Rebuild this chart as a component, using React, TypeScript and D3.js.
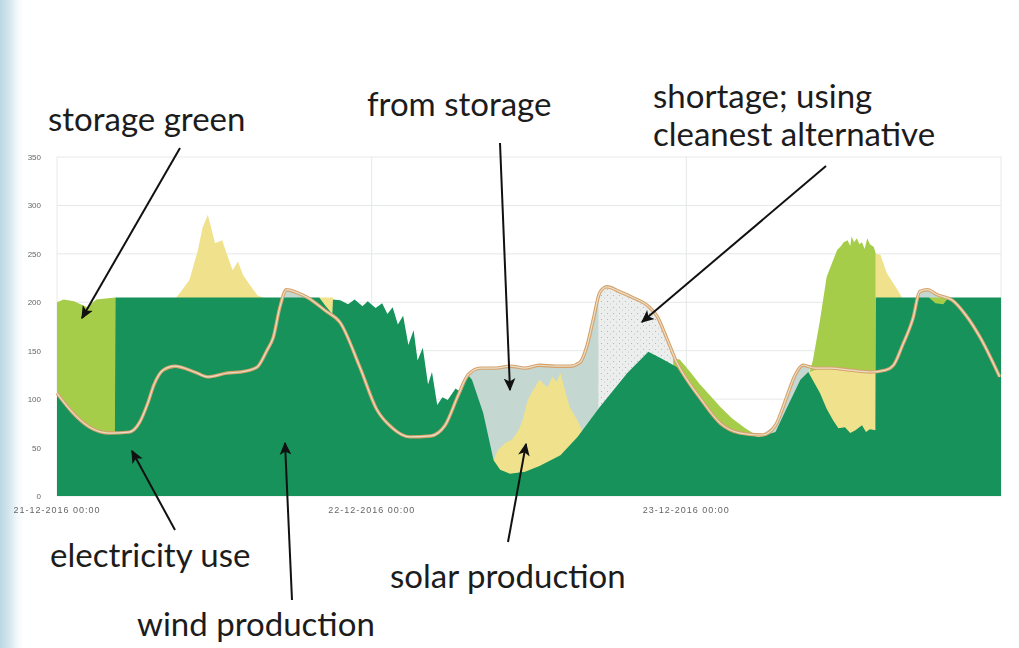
import * as d3 from 'd3'

type Pt = [number, number]

// hours since 21-12-2016 00:00, value
const useLine: Pt[] = [
  [0, 106], [1.2, 86], [2.5, 71], [4.0, 65], [5.5, 66], [6.3, 76], [6.9, 95], [7.4, 115], [8.1, 130], [9.0, 134],
  [10.5, 128], [11.5, 123], [13.0, 127], [14.0, 128], [15.25, 133], [16.0, 150], [16.5, 164], [17.0, 195], [17.5, 213],
  [18.3, 210], [19.1, 205], [20.5, 191], [21.6, 179], [23.1, 133], [24.4, 89], [25.6, 70], [26.9, 61], [28.5, 62],
  [29.6, 73], [30.6, 104], [31.35, 125], [32.3, 132], [33.4, 132], [34.6, 134], [35.7, 132], [36.8, 135], [38.0, 134],
  [39.1, 134], [39.9, 138], [40.4, 154], [40.9, 182], [41.4, 210], [41.95, 216], [42.9, 211], [43.9, 205], [45.0, 197],
  [45.8, 185], [46.5, 163], [47.3, 137], [48.3, 115], [49.0, 102], [50.6, 75], [52.1, 65], [53.8, 63], [54.8, 73],
  [55.7, 104], [56.3, 125], [56.9, 135], [57.8, 132], [59.0, 132], [60.5, 130], [62.0, 128], [63.2, 130], [63.8, 135],
  [64.5, 156], [65.3, 184], [65.8, 211], [66.4, 213], [67.1, 208], [68.3, 202], [69.3, 187], [70.4, 164], [71.9, 123],
]

const wind: Pt[] = [
  [0, 106], [1.2, 86], [2.5, 71], [4.0, 65], [4.42, 65], [4.45, 205], [20.0, 205], [20.5, 196], [21.0, 188], [21.05, 203],
  [21.6, 202], [22.2, 198], [22.7, 203], [23.3, 196], [23.7, 201], [24.3, 194], [24.8, 199], [25.2, 188], [25.6, 195],
  [26.0, 177], [26.4, 186], [26.8, 156], [27.2, 171], [27.5, 140], [27.9, 153], [28.3, 115], [28.6, 128], [29.0, 94],
  [29.4, 102], [29.8, 99], [30.4, 111], [30.8, 107], [31.35, 125], [31.65, 120], [32.5, 86], [33.3, 37], [33.8, 27],
  [34.55, 23], [35.7, 25], [36.8, 31], [38.4, 42], [39.7, 61], [41.4, 92], [43.5, 127], [45.1, 149], [46.1, 142],
  [47.3, 133], [49.0, 100], [50.6, 73], [52.5, 63], [53.6, 61], [54.8, 66], [55.7, 92], [56.7, 120], [57.3, 128],
  [58.2, 106], [58.7, 90], [59.2, 78], [59.6, 70], [60.1, 71], [60.5, 65], [60.9, 68], [61.4, 73], [61.7, 66],
  [62.0, 69], [62.42, 68], [62.45, 205], [66.5, 205], [67.0, 199], [67.6, 198], [68.0, 205], [72, 205],
]

const storageGreenA: Pt[] = [[0, 200], [0.5, 203], [1.3, 201], [2.3, 195], [3.0, 203], [4.43, 205]]
const storageGreenB: Pt[] = [[47.0, 142], [47.5, 141], [48.3, 128], [49.0, 116], [50.0, 101], [50.6, 92], [51.5, 80], [52.5, 70], [53.3, 63]]
const storageGreenC: Pt[] = [
  [57.4, 128], [57.65, 140], [58.2, 182], [58.7, 226], [59.1, 240], [59.5, 254], [59.8, 258], [60.0, 262], [60.3, 264],
  [60.5, 258], [60.6, 268], [60.8, 262], [61.0, 266], [61.2, 260], [61.4, 262], [61.6, 255], [61.8, 266], [62.0, 260],
  [62.3, 257], [62.45, 250],
]
const storageGreenD: Pt[] = [[66.5, 205], [68.0, 205]]

const solarA: Pt[] = [
  [9.1, 205], [9.4, 210], [10.1, 223], [10.75, 254], [11.1, 277], [11.5, 290], [11.8, 275], [12.05, 261], [12.6, 264],
  [12.97, 249], [13.4, 233], [13.8, 242], [14.2, 228], [14.7, 218], [15.3, 207], [15.7, 205],
]
const solarB: Pt[] = [[20.0, 205], [21.05, 205]]
const solarC: Pt[] = [
  [33.3, 37], [33.6, 47], [34.2, 55], [34.7, 58], [35.2, 68], [35.5, 78], [35.9, 99], [36.3, 109], [36.8, 120],
  [37.4, 112], [37.8, 123], [38.1, 118], [38.4, 127], [38.75, 109], [39.1, 92], [39.7, 78], [40.05, 68], [40.3, 67],
]
const solarD: Pt[] = [[57.4, 128], [58.2, 132], [59.2, 132], [60.1, 131], [60.7, 130], [61.4, 129], [62.0, 128], [62.45, 128]]
const solarE: Pt[] = [[62.45, 250], [62.8, 249], [63.3, 230], [64.1, 213], [64.45, 205]]

const fromStorageA: Pt[] = [[17.1, 205], [17.5, 213], [18.3, 210], [19.1, 205]]
const fromStorageB: Pt[] = [
  [31.35, 125], [32.3, 132], [33.4, 132], [34.6, 134], [35.7, 132], [36.8, 135], [38.0, 134], [39.1, 134], [39.9, 138],
  [40.4, 154], [40.9, 182], [41.3, 206],
]
const fromStorageC: Pt[] = [[53.6, 62], [54.8, 73], [55.7, 104], [56.3, 125], [56.9, 135], [57.4, 133]]
const fromStorageD: Pt[] = [[65.5, 205], [65.8, 211], [66.4, 213], [67.1, 208], [67.5, 205]]

const shortage: Pt[] = [[41.3, 206], [41.95, 216], [42.9, 211], [43.9, 205], [45.0, 197], [45.8, 185], [46.5, 163], [47.3, 137], [47.5, 133]]

const yTicks = [0, 50, 100, 150, 200, 250, 300, 350]
const xTicks: [number, string][] = [[0, '21-12-2016 00:00'], [24, '22-12-2016 00:00'], [48, '23-12-2016 00:00']]

type Note = { lines: string[]; x: number; y: number; from: Pt; to: Pt }
const notes: Note[] = [
  { lines: ['storage green'], x: 48, y: 131, from: [180, 148], to: [82, 318] },
  { lines: ['from storage'], x: 367, y: 116, from: [500, 143], to: [510, 390] },
  { lines: ['shortage; using', 'cleanest alternative'], x: 653, y: 108, from: [826, 166], to: [642, 322] },
  { lines: ['electricity use'], x: 50, y: 567, from: [175, 530], to: [132, 451] },
  { lines: ['wind production'], x: 137, y: 636, from: [292, 600], to: [285, 443] },
  { lines: ['solar production'], x: 390, y: 588, from: [508, 542], to: [526, 444] },
]

const colors = {
  wind: '#12925a',
  storageGreen: '#a6cd4a',
  solar: '#f0e18c',
  fromStorage: '#c4d7d1',
}

export default function App() {
  const width = 1019
  const height = 648
  const x = d3.scaleLinear().domain([0, 72]).range([57, 1001])
  const y = d3.scaleLinear().domain([0, 350]).range([496, 157])

  const area = d3
    .area<Pt>()
    .x((d) => x(d[0]))
    .y0(y(0))
    .y1((d) => y(d[1]))
  const line = d3
    .line<Pt>()
    .x((d) => x(d[0]))
    .y((d) => y(d[1]))
    .curve(d3.curveMonotoneX)

  const layers: [Pt[], string][] = [
    [shortage, 'url(#dots)'],
    [fromStorageA, colors.fromStorage],
    [fromStorageB, colors.fromStorage],
    [fromStorageC, colors.fromStorage],
    [fromStorageD, colors.fromStorage],
    [storageGreenA, colors.storageGreen],
    [storageGreenB, colors.storageGreen],
    [storageGreenC, colors.storageGreen],
    [storageGreenD, colors.storageGreen],
    [solarA, colors.solar],
    [solarB, colors.solar],
    [solarC, colors.solar],
    [solarD, colors.solar],
    [solarE, colors.solar],
    [wind, colors.wind],
  ]

  return (
    <svg
      width={width}
      height={height}
      viewBox={`0 0 ${width} ${height}`}
      style={{ position: 'absolute', left: 0, top: 0, display: 'block', background: '#fff' }}
    >
      <defs>
        <linearGradient id="edge" x1="0" x2="1" y1="0" y2="0">
          <stop offset="0" stopColor="#b9d7e3" />
          <stop offset="0.45" stopColor="#dcebf1" />
          <stop offset="1" stopColor="#ffffff" stopOpacity="0" />
        </linearGradient>
        <pattern id="dots" width="6" height="6" patternUnits="userSpaceOnUse">
          <rect width="6" height="6" fill="#eceeed" />
          <circle cx="1.5" cy="1.5" r="0.6" fill="#a9b0ae" />
          <circle cx="4.5" cy="4" r="0.5" fill="#b7bdbb" />
        </pattern>
        <marker id="head" viewBox="0 0 10 10" refX="9" refY="5" markerWidth="13" markerHeight="13" markerUnits="userSpaceOnUse" orient="auto">
          <path d="M0,0.5 L10,5 L0,9.5 L2.5,5 Z" fill="#111" />
        </marker>
        <filter id="soft" x="-2%" y="-2%" width="104%" height="104%">
          <feGaussianBlur stdDeviation="0.45" />
        </filter>
      </defs>

      <rect x={0} y={0} width={26} height={height} fill="url(#edge)" />

      <g filter="url(#soft)">
        {yTicks.map((t) => (
          <line key={t} x1={x(0)} x2={x(72)} y1={y(t)} y2={y(t)} stroke="#e6e8e8" strokeWidth={1} />
        ))}
        {[0, 24, 48, 72].map((t) => (
          <line key={t} x1={x(t)} x2={x(t)} y1={y(350)} y2={y(0)} stroke="#e6e8e8" strokeWidth={1} />
        ))}

        {layers.map(([data, fill], i) => (
          <path key={i} d={area(data) ?? ''} fill={fill} />
        ))}

        {/* electricity use: tan outline with a pale core */}
        <path d={line(useLine) ?? ''} fill="none" stroke="#d6a26c" strokeWidth={3.4} strokeLinejoin="round" />
        <path d={line(useLine) ?? ''} fill="none" stroke="#e9dfc6" strokeWidth={1.2} strokeLinejoin="round" />

        {yTicks.map((t) => (
          <text key={t} x={41} y={y(t) + 3} textAnchor="end" fontSize={8} fill="#666" fontFamily="Liberation Sans, sans-serif">
            {t}
          </text>
        ))}
        {xTicks.map(([h, label]) => (
          <text key={h} x={x(h)} y={513} textAnchor="middle" fontSize={9} letterSpacing={1} fill="#666" fontFamily="Liberation Sans, sans-serif">
            {label}
          </text>
        ))}
      </g>

      {notes.map((n, i) => (
        <g key={i}>
          <line x1={n.from[0]} y1={n.from[1]} x2={n.to[0]} y2={n.to[1]} stroke="#111" strokeWidth={2} markerEnd="url(#head)" />
          <text x={n.x} y={n.y} fontSize={33} fill="#1c1c1c" fontFamily="Lato, sans-serif">
            {n.lines.map((l, j) => (
              <tspan key={j} x={n.x} dy={j === 0 ? 0 : 38}>
                {l}
              </tspan>
            ))}
          </text>
        </g>
      ))}
    </svg>
  )
}
